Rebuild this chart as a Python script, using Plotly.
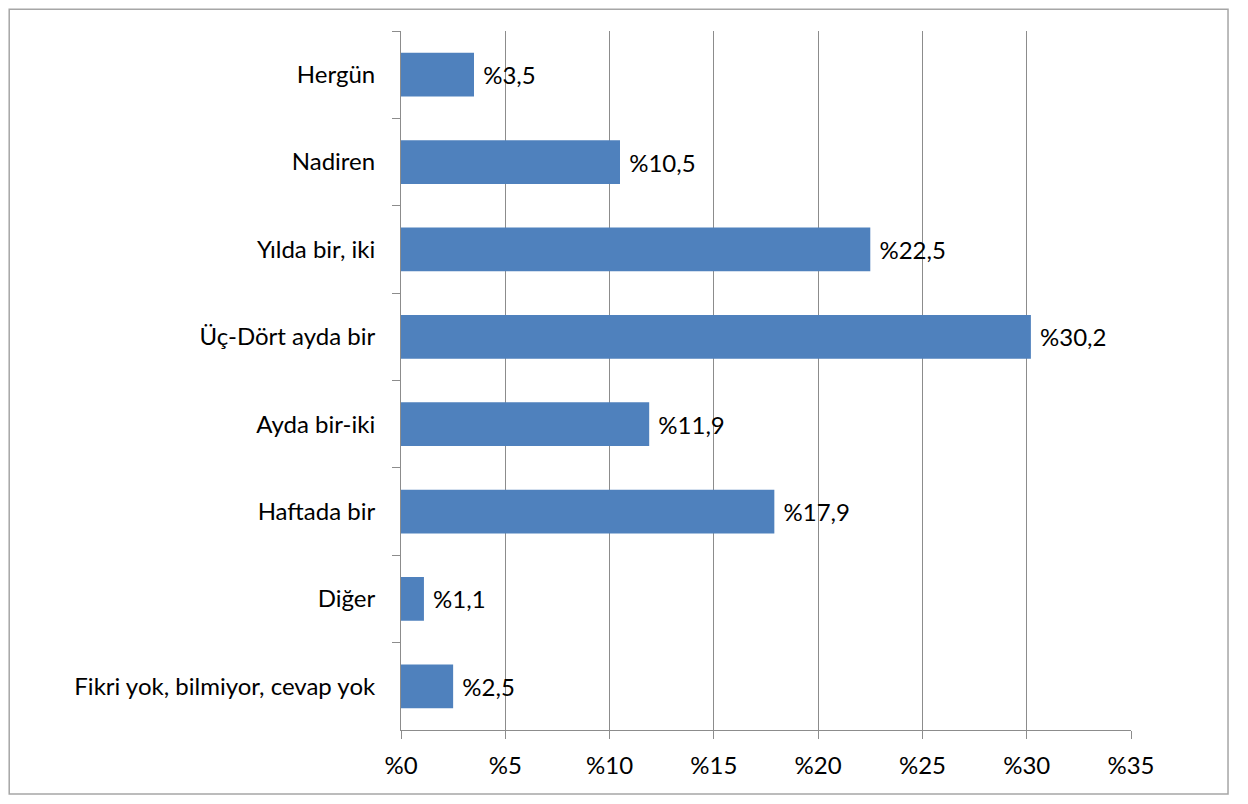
import plotly.graph_objects as go

categories = ["Hergün", "Nadiren", "Yılda bir, iki", "Üç-Dört ayda bir",
              "Ayda bir-iki", "Haftada bir", "Diğer", "Fikri yok, bilmiyor, cevap yok"]
values = [3.5, 10.5, 22.5, 30.2, 11.9, 17.9, 1.1, 2.5]
bar_labels = ["%3,5", "%10,5", "%22,5", "%30,2", "%11,9", "%17,9", "%1,1", "%2,5"]
x_ticks = [0, 5, 10, 15, 20, 25, 30, 35]
x_ticktext = ["%0", "%5", "%10", "%15", "%20", "%25", "%30", "%35"]

font_family = "Lato, Open Sans, sans-serif"

fig = go.Figure()
fig.add_trace(go.Bar(
    y=categories, x=values, orientation="h",
    marker=dict(color="#4F81BD", line=dict(width=0)),
    text=bar_labels, texttemplate=" %{text}", textposition="outside",
    cliponaxis=False,
    textfont=dict(size=24, color="black", family=font_family),
))

# page body has an 8px margin, so the figure is sized and offset for it
fig.update_layout(
    width=1232, height=788,
    margin=dict(l=393, r=109, t=23, b=66),
    plot_bgcolor="white", paper_bgcolor="white",
    bargap=0.5, showlegend=False,
    font=dict(family=font_family, size=24, color="black"),
    xaxis=dict(range=[0, 35], tickvals=x_ticks, ticktext=x_ticktext,
               showgrid=True, gridcolor="#8C8C8C", gridwidth=1,
               showline=True, linecolor="#8C8C8C", ticks="outside",
               ticklen=8, tickcolor="#8C8C8C", zeroline=False,
               ticklabelstandoff=6),
    yaxis=dict(autorange="reversed", showline=True, linecolor="#8C8C8C",
               ticks="outside", tickson="boundaries", ticklen=8,
               tickcolor="#8C8C8C", showgrid=False, ticklabelstandoff=20),
    shapes=[dict(type="rect", xref="paper", yref="paper",
                 x0=-0.5367, x1=1.1329, y0=-0.0917, y1=1.031,
                 line=dict(color="#A6A6A6", width=1.5), layer="below")],
)

fig.write_html("out.html")
